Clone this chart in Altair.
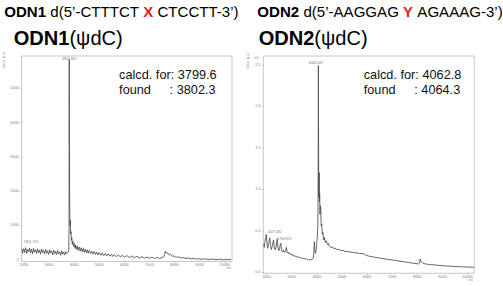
import altair as alt
import pandas as pd

# ---------------- data ----------------
odn1_mz = [1900, 1940, 1980, 2020, 2060, 2100, 2140, 2180, 2220, 2260,
           2300, 2340, 2380, 2420, 2460, 2500, 2540, 2580, 2620, 2660,
           2700, 2740, 2780, 2820, 2860, 2900, 2940, 2980, 3020, 3060,
           3100, 3140, 3180, 3220, 3260, 3300, 3340, 3380, 3420, 3460,
           3500, 3540, 3580, 3620, 3660, 3700, 3740,
           3770, 3785, 3793, 3798, 3802, 3806, 3811, 3818, 3826, 3835,
           3845, 3858, 3872, 3888, 3905, 3925, 3948, 3972, 4000, 4030,
           4060, 4090, 4125, 4160, 4200, 4240, 4280, 4320, 4360, 4400,
           4440, 4480, 4520, 4560, 4600, 4650, 4700, 4750, 4800, 4850,
           4900, 4950, 5000, 5060, 5120, 5180, 5240, 5300, 5360, 5420,
           5480, 5540, 5600, 5680, 5760, 5840, 5920, 6000, 6100, 6200,
           6300, 6400, 6500, 6600, 6700, 6800, 6900, 7000, 7100, 7200,
           7300, 7400, 7500, 7560, 7600, 7630, 7660, 7690, 7730, 7780,
           7840, 7900, 7980, 8060, 8150, 8250, 8350, 8450, 8550, 8650,
           8750, 8850, 8950, 9050, 9200, 9350, 9500, 9650, 9800, 9950,
           10100, 10250]
odn1_int = [330, 190, 320, 210, 350, 180, 300, 230, 340, 200,
            310, 170, 330, 220, 290, 180, 320, 200, 280, 160,
            310, 210, 270, 170, 300, 190, 260, 150, 290, 200,
            250, 140, 280, 180, 240, 150, 270, 170, 230, 130,
            260, 160, 220, 140, 240, 170, 210,
            230, 280, 900, 3300, 5850, 3900, 2900, 1700, 1350, 1000,
            1150, 750, 820, 560, 640, 450, 540, 390, 470, 330,
            430, 300, 400, 270, 370, 250, 350, 230, 330, 220,
            310, 200, 290, 190, 270, 180, 250, 160, 240, 150,
            220, 140, 210, 130, 200, 120, 185, 110, 175, 100,
            160, 95, 150, 85, 140, 80, 130, 75, 120, 65,
            110, 55, 100, 50, 90, 45, 80, 40, 75, 35,
            70, 30, 65, 80, 150, 250, 220, 180, 200, 140,
            150, 100, 110, 70, 85, 50, 65, 35, 50, 25,
            40, 15, 30, 10, 25, 5, 20, 0, 15, -5,
            10, 0]

odn2_mz = [1880, 1910, 1940, 1965, 1990, 2015, 2045, 2075, 2105, 2130,
           2160, 2195, 2230, 2255, 2280, 2310, 2345, 2380, 2405, 2427,
           2455, 2490, 2520, 2545, 2570, 2600, 2640, 2680, 2720, 2760,
           2790, 2820, 2860, 2900,
           2940, 2980, 3020, 3060, 3100, 3140, 3180, 3220, 3260, 3300,
           3340, 3380, 3420, 3460, 3500, 3540, 3580, 3620, 3660, 3700,
           3740, 3780, 3820, 3860,
           3880, 3895, 3905, 3915, 3930, 3950, 3975, 4000, 4020, 4040,
           4052, 4060, 4064, 4068, 4074, 4080, 4088, 4096, 4105, 4115,
           4128, 4142, 4158, 4176, 4196, 4220, 4245, 4275, 4305, 4340,
           4380, 4420, 4460, 4500, 4560, 4620, 4680, 4740, 4800, 4880,
           4960, 5040, 5120, 5200, 5300, 5400, 5500, 5600, 5700, 5800,
           5900, 6000, 6150, 6300, 6450, 6600, 6750, 6900, 7050, 7200,
           7350, 7500, 7650, 7800, 7950, 8050, 8090, 8110, 8130, 8160,
           8200, 8260, 8340, 8440, 8560, 8700, 8850, 9000, 9150, 9300,
           9450, 9600, 9750, 9900, 10050, 10200, 10260]
odn2_int = [3400, 3000, 3700, 4200, 4550, 3600, 2900, 3300, 3850, 4150,
            3200, 2750, 3200, 3600, 3900, 3050, 2700, 3000, 3600, 4050,
            3000, 2600, 2900, 3300, 3500, 2700, 2450, 2650, 2400, 2600,
            3000, 2350, 2450, 2200,
            2300, 2100, 2200, 1950, 2050, 1900, 1980, 1800, 1880, 1750,
            1820, 1680, 1740, 1620, 1700, 1560, 1640, 1500, 1580, 1470,
            1550, 1480, 1620, 1750,
            2200, 3300, 3700, 3100, 2500, 2300, 2700, 3500, 4200, 5500,
            9000, 17000, 24900, 19000, 13000, 9000, 11000, 12000, 8500, 9500,
            7000, 8000, 7600, 5600, 5800, 4600, 4800, 3900, 4200, 3600,
            3800, 3350, 3500, 3150, 3000, 3050, 2850, 2900, 2750, 2780,
            2620, 2650, 2520, 2540, 2430, 2440, 2340, 2350, 2260, 2270,
            2180, 2000, 1900, 1820, 1740, 1670, 1600, 1530, 1460, 1390,
            1320, 1250, 1180, 1110, 1050, 1010, 1100, 1600, 1450, 1250,
            1130, 1060, 1000, 960, 920, 880, 840, 800, 770, 740,
            710, 690, 670, 650, 630, 610, 600]

mz_ticks = [2000, 3000, 4000, 5000, 6000, 7000, 8000, 9000, 10000]
mz_tick_labels = ["2000", "3000", "4000", "5000", "6000", "7000", "8000",
                  "9000", "10000"]
odn1_yticks = [0, 1000, 2000, 3000, 4000, 5000]
odn1_ytick_labels = ["0", "1000", "2000", "3000", "4000", "5000"]
odn2_yticks = [0, 5000, 10000, 15000, 20000, 25000]
odn2_ytick_labels = ["0.0", "0.5", "1.0", "1.5", "2.0", "2.5"]

odn1_peak_labels = ["3802.303", "1901.724"]
odn1_peak_mz = [3510, 1990]
odn1_peak_int = [5870, 510]
odn2_peak_labels = ["4064.329", "2427.482", "2790.813"]
odn2_peak_mz = [3672, 2037, 2427]
odn2_peak_int = [25150, 4910, 3960]

odn1_header = ["ODN1", "d(5’-CTTTCT", "X", "CTCCTT-3’)"]
odn2_header = ["ODN2", "d(5’-AAGGAG", "Y", "AGAAAG-3’)"]
odn1_title = ["ODN1", "(ψdC)"]
odn2_title = ["ODN2", "(ψdC)"]
odn1_calc = ["calcd. for: 3799.6", "found", ": 3802.3"]
odn2_calc = ["calcd. for: 4062.8", "found", ": 4064.3"]

# ---------------- styling / layout helpers ----------------
FONT = "Liberation Sans"
RED = "#e3231f"
GREY = "#7a7a7a"
ONE = pd.DataFrame({"k": [0]})

W_REG = {' ': .278, 'd': .556, '(': .333, ')': .333, '5': .556, '’': .222,
         '-': .333, 'C': .722, 'T': .611, 'A': .667, 'G': .778, '3': .556}
W_BOLD = {'O': .778, 'D': .722, 'N': .722, '1': .556, '2': .556,
          'X': .667, 'Y': .667, ' ': .278}


def tw(s, size, bold=False):
    t = W_BOLD if bold else W_REG
    return sum(t.get(c, .556) for c in s) * size


def txt(s, x, y, size, color="black", weight="normal", align="left",
        baseline="alphabetic", angle=None):
    kw = dict(text=s, fontSize=size, color=color, fontWeight=weight,
              align=align, baseline=baseline, font=FONT)
    if angle is not None:
        kw["angle"] = angle
    return alt.Chart(ONE).mark_text(**kw).encode(x=alt.value(x), y=alt.value(y))


def header(parts, x0, ox, oy):
    size = 15.4
    marks = []
    x = x0
    styles = [("bold", "black"), ("normal", "black"), ("bold", RED), ("normal", "black")]
    for p, (wgt, col) in zip(parts, styles):
        marks.append(txt(p, x - ox, 13.7 - oy, size, color=col, weight=wgt))
        x += tw(p, size, wgt == "bold") + tw(" ", size)
    return marks


def title(parts, x0, ox, oy):
    size = 20.5
    return [txt(parts[0], x0 - ox, 41.5 - oy, size, weight="bold"),
            txt(parts[1], x0 + tw(parts[0], size, True) - ox, 41.5 - oy, size)]


def calc(parts, x0, x2, ox, oy):
    return [txt(parts[0], x0 - ox, 76.7 - oy, 13, color="#111"),
            txt(parts[1], x0 - ox, 91.7 - oy, 13, color="#111"),
            txt(parts[2], x2 - ox, 91.7 - oy, 13, color="#111")]


AX = dict(grid=False, domain=False, labels=False, tickColor="#9a9a9a",
          tickSize=1.5, tickWidth=0.5, title=None)


def panel(mz, inten, xdom, ydom, w, h, yticks, ytick_labels,
          pk_mz, pk_int, pk_txt, xlab_dy, extras):
    df = pd.DataFrame({"mz": mz, "intensity": inten})
    xs = alt.Scale(domain=xdom, nice=False, zero=False)
    ys = alt.Scale(domain=ydom, nice=False, zero=False)
    x = alt.X("mz:Q", scale=xs, axis=alt.Axis(values=mz_ticks, **AX))
    y = alt.Y("intensity:Q", scale=ys, axis=alt.Axis(values=yticks, **AX))
    line = alt.Chart(df).mark_line(color="#474747", strokeWidth=0.85, clip=True).encode(
        x=x, y=y, order="mz:Q")
    pk_df = pd.DataFrame({"mz": pk_mz, "intensity": pk_int, "label": pk_txt})
    pk = alt.Chart(pk_df).mark_text(fontSize=3.5, color=GREY, align="left",
                                    baseline="middle", font=FONT).encode(
        x="mz:Q", y="intensity:Q", text="label:N")
    # tick labels drawn as text through the same scales
    xl = alt.Chart(pd.DataFrame({"mz": mz_ticks, "label": mz_tick_labels})).mark_text(
        fontSize=4, color=GREY, align="center", baseline="top", font=FONT).encode(
        x="mz:Q", y=alt.value(h + xlab_dy), text="label:N")
    yl = alt.Chart(pd.DataFrame({"intensity": yticks, "label": ytick_labels})).mark_text(
        fontSize=4, color=GREY, align="right", baseline="middle", font=FONT).encode(
        y="intensity:Q", x=alt.value(-2.6), text="label:N")
    return alt.layer(line, pk, xl, yl, *extras).properties(width=w, height=h)


# left panel: plot area origin (21, 53) in page pixels
L_OX, L_OY = 21, 53
left_extras = (
    header(odn1_header, 3.3, L_OX, L_OY)
    + title(odn1_title, 13, L_OX, L_OY)
    + calc(odn1_calc, 120.7, 172.3, L_OX, L_OY)
    + [txt("Intens. [a.u.]", 3 - L_OX, 57 - L_OY, 3, color="#8a8a8a",
           align="center", baseline="middle", angle=270),
       txt("m/z", 233 - L_OX, 268.6 - L_OY, 2.8, color="#8a8a8a", align="center",
           baseline="top"),
       alt.Chart(ONE).mark_rect(opacity=0).encode(
           x=alt.value(-L_OX), x2=alt.value(-L_OX + 1),
           y=alt.value(-L_OY), y2=alt.value(-L_OY + 1))]
)
left = panel(odn1_mz, odn1_int, [1900, 10285], [-50, 5950], 215, 210,
             odn1_yticks, odn1_ytick_labels, odn1_peak_mz, odn1_peak_int,
             odn1_peak_labels, 1.2, left_extras)

# right panel: plot area origin (268, 53)
R_OX, R_OY = 268, 53
right_extras = (
    header(odn2_header, 262, R_OX, R_OY)
    + title(odn2_title, 263.3, R_OX, R_OY)
    + calc(odn2_calc, 370.7, 422.3, R_OX, R_OY)
    + [txt("Intens. [a.u.]", 252 - R_OX, 58 - R_OY, 3, color="#8a8a8a",
           align="center", baseline="middle", angle=270),
       txt("x10⁴", 261.5 - R_OX, 55 - R_OY, 3, color="#8a8a8a", align="center",
           baseline="middle"),
       txt("m/z", 480 - R_OX, 281.2 - R_OY, 2.8, color="#8a8a8a", align="center",
           baseline="top")]
)
right = panel(odn2_mz, odn2_int, [1870, 10260], [-100, 26060], 215.5, 222,
              odn2_yticks, odn2_ytick_labels, odn2_peak_mz, odn2_peak_int,
              odn2_peak_labels, 2.3, right_extras)

chart = (
    alt.hconcat(left, right, spacing=32, bounds="flush")
    .properties(padding=0, background="white")
    .configure(font=FONT)
    .configure_view(stroke="#a0a0a0", strokeWidth=0.6)
)

chart.save("out.html", embed_options={"renderer": "svg", "actions": False})
